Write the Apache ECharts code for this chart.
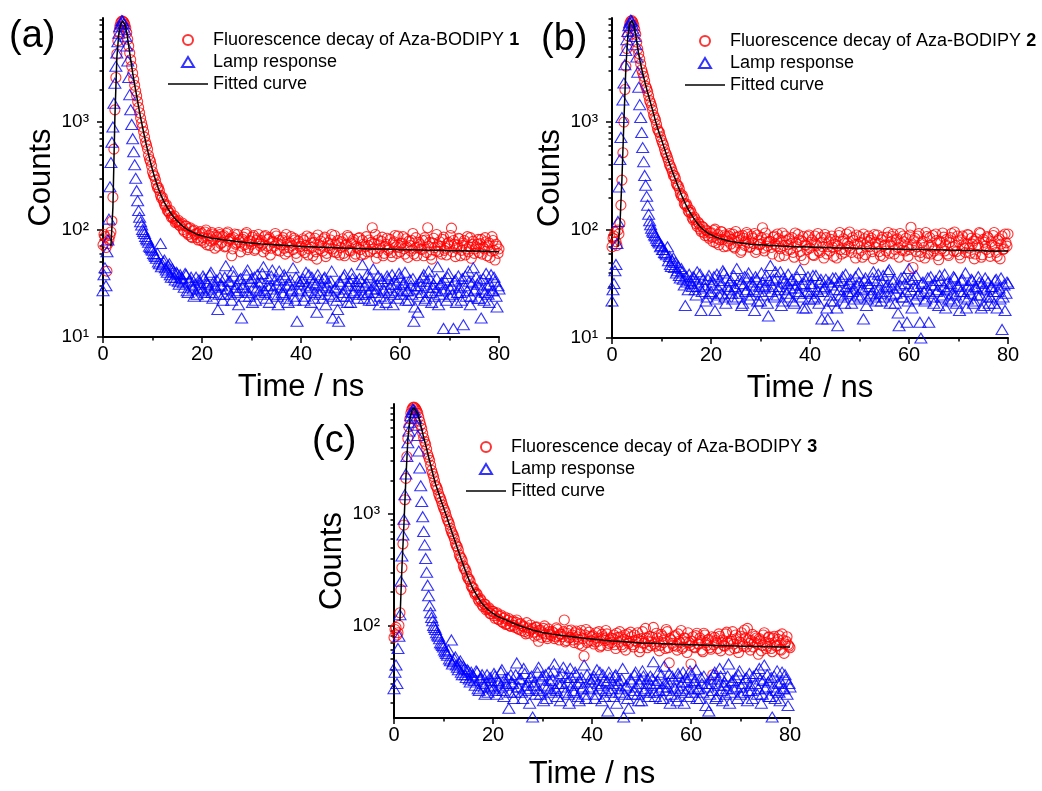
<!DOCTYPE html>
<html><head><meta charset="utf-8">
<script src="https://cdn.jsdelivr.net/npm/echarts@6/dist/echarts.min.js"></script>
<style>html,body{margin:0;padding:0;background:#fff}#c{width:1042px;height:791px}</style>
</head><body><div id="c"></div>
<script>
// TCSPC channel width (ns). "EVEN" arrays hold channels 0,2,4,... (t = 0, 0.4, ...),
// "ODD" arrays hold channels 1,3,5,... (t = 0.2, 0.6, ...).
const CHANNEL_NS = 0.2;

// Lamp response (panels a and c share the same lamp record)
const LAMP_AC_EVEN = [
 27, 44, 62, 125, 420, 900, 2300, 4400, 6700, 8300,
 8700, 7300, 5100, 2600, 1300, 700, 400, 230, 150, 118,
 100, 92, 82, 76, 68, 64, 58, 54, 50, 74,
 47, 52, 42, 46, 38, 43, 36, 40, 33, 38,
 35, 29, 38, 26, 34, 30, 24, 36, 28, 32,
 27, 35, 24, 31, 38, 26, 33, 29, 18, 36,
 30, 25, 46, 28, 33, 22, 37, 29, 26, 34,
 15, 31, 27, 42, 24, 35, 29, 22, 38, 27,
 33, 45, 26, 30, 21, 37, 28, 34, 24, 41,
 29, 25, 36, 23, 31, 27, 44, 22, 14, 33,
 28, 35, 24, 30, 38, 21, 32, 26, 17, 34,
 27, 23, 36, 29, 25, 33, 15, 28, 22, 14,
 31, 26, 38, 24, 30, 21, 35, 27, 33, 25,
 29, 47, 23, 32, 26, 36, 22, 30, 28, 37,
 24, 33, 27, 21, 35, 29, 38, 25, 31, 23,
 36, 28, 32, 22, 27, 34, 25, 14, 30, 17,
 33, 26, 38, 23, 29, 35, 21, 31, 27, 45,
 25, 32, 12, 28, 36, 24, 30, 12, 34, 26,
 29, 22, 13, 37, 27, 33, 24, 44, 28, 31,
 23, 15, 35, 26, 30, 21, 38, 27, 33, 19,
 28
];
const LAMP_AC_ODD = [
 38, 30, 80, 250, 650, 1500, 3300, 5600, 7700, 8800,
 8200, 6300, 3700, 1800, 950, 530, 300, 185, 130, 110,
 96, 86, 80, 70, 66, 60, 56, 60, 48, 45,
 50, 44, 40, 48, 36, 41, 34, 39, 31, 36,
 32, 39, 27, 33, 36, 28, 31, 25, 34, 29,
 37, 26, 32, 28, 40, 23, 30, 34, 25, 31,
 22, 36, 28, 33, 25, 41, 27, 31, 20, 35,
 29, 24, 38, 26, 33, 21, 36, 28, 32, 25,
 39, 27, 23, 35, 30, 42, 25, 31, 20, 34,
 26, 38, 30, 21, 34, 28, 24, 36, 27, 31,
 33, 22, 40, 27, 29, 36, 23, 31, 38, 25,
 30, 35, 20, 32, 27, 41, 24, 29, 18, 33,
 24, 36, 28, 21, 33, 39, 26, 30, 23, 35,
 33, 25, 30, 38, 22, 28, 43, 26, 31, 20,
 35, 28, 23, 37, 26, 31, 20, 34, 27, 39,
 25, 31, 40, 27, 22, 30, 35, 19, 28, 24,
 30, 36, 22, 33, 41, 26, 29, 24, 35, 20,
 31, 27, 34, 22, 39, 28, 25, 33, 21, 37,
 26, 35, 30, 24, 41, 20, 32, 27, 36, 23,
 34, 28, 22, 39, 25, 31, 27, 36, 24, 30
];

const FL_A_EVEN = [
 72, 86, 41, 80, 95, 200, 1300, 4300, 6900, 8400,
 8700, 8100, 6800, 5100, 3800, 2850, 2200, 1750, 1370, 1090,
 900, 725, 610, 490, 430, 345, 312, 262, 245, 208,
 200, 172, 170, 148, 150, 132, 134, 118, 122, 108,
 115, 96, 108, 90, 104, 84, 99, 92, 80, 96,
 92, 76, 99, 83, 71, 94, 80, 88, 70, 90,
 76, 88, 70, 95, 81, 57, 84, 73, 90, 77,
 70, 85, 91, 65, 79, 73, 88, 66, 82, 75,
 79, 62, 88, 70, 84, 67, 76, 92, 64, 80,
 72, 84, 59, 77, 68, 86, 65, 80, 55, 74,
 70, 82, 61, 87, 66, 75, 57, 83, 53, 72,
 78, 63, 85, 60, 71, 80, 66, 88, 61, 74,
 68, 82, 57, 73, 85, 63, 77, 56, 70, 83,
 65, 79, 59, 86, 71, 62, 104, 74, 54, 80,
 67, 85, 60, 73, 64, 81, 56, 77, 69, 87,
 62, 75, 66, 82, 55, 71, 79, 59, 84, 68,
 73, 65, 57, 80, 104, 76, 53, 83, 63, 71,
 77, 59, 85, 67, 74, 70, 103, 79, 56, 72,
 82, 64, 75, 58, 86, 69, 54, 78, 66, 73,
 61, 81, 68, 84, 57, 75, 63, 79, 52, 70,
 66
];
const FL_A_ODD = [
 90, 68, 74, 88, 120, 560, 2600, 5700, 7800, 8700,
 8500, 7500, 5900, 4400, 3300, 2500, 1950, 1550, 1220, 980,
 815, 650, 560, 450, 392, 322, 290, 244, 230, 196,
 185, 165, 150, 142, 130, 127, 116, 119, 110, 112,
 100, 108, 93, 102, 86, 97, 90, 84, 93, 79,
 84, 95, 72, 88, 78, 91, 67, 85, 94, 74,
 86, 69, 92, 78, 83, 66, 91, 75, 80, 62,
 81, 72, 94, 68, 77, 85, 64, 79, 90, 70,
 73, 86, 66, 81, 58, 78, 70, 87, 74, 63,
 80, 67, 90, 62, 75, 71, 83, 60, 78, 69,
 64, 79, 71, 58, 84, 68, 76, 62, 89, 66,
 70, 82, 56, 75, 67, 90, 62, 73, 79, 58,
 77, 60, 71, 88, 64, 74, 81, 59, 67, 84,
 58, 73, 69, 62, 80, 76, 66, 90, 61, 72,
 78, 57, 70, 83, 66, 61, 75, 88, 60, 68,
 74, 86, 59, 69, 78, 63, 92, 67, 57, 76,
 66, 79, 84, 61, 70, 58, 75, 68, 90, 62,
 70, 81, 64, 58, 76, 88, 62, 73, 67, 83,
 57, 71, 79, 66, 62, 84, 73, 60, 69, 81,
 74, 59, 66, 77, 71, 55, 86, 64, 73, 60
];

const FL_B_EVEN = [
 70, 88, 78, 100, 115, 290, 1000, 3300, 6300, 8200,
 8700, 7900, 6500, 4750, 3850, 3050, 2650, 2150, 1920, 1580,
 1410, 1160, 1045, 860, 800, 680, 610, 520, 470, 405,
 370, 320, 300, 258, 240, 205, 198, 170, 166, 146,
 145, 124, 126, 108, 114, 97, 106, 89, 98, 84,
 95, 78, 102, 84, 73, 97, 82, 90, 71, 88,
 74, 92, 68, 86, 80, 62, 89, 72, 95, 76,
 70, 84, 93, 66, 80, 74, 105, 64, 83, 77,
 78, 60, 88, 71, 83, 67, 94, 58, 80, 73,
 66, 85, 56, 76, 91, 63, 79, 53, 72, 87,
 68, 81, 58, 74, 93, 62, 77, 55, 85, 70,
 64, 88, 57, 79, 71, 95, 60, 83, 66, 76,
 96, 62, 80, 55, 74, 87, 65, 92, 59, 78,
 70, 84, 54, 77, 90, 63, 81, 57, 73, 86,
 61, 78, 92, 66, 83, 56, 75, 88, 64, 71,
 66, 106, 45, 84, 70, 93, 62, 79, 55, 87,
 72, 60, 89, 67, 80, 53, 76, 94, 64, 82,
 58, 85, 70, 96, 63, 78, 55, 88, 68, 75,
 90, 61, 74, 54, 83, 69, 93, 59, 77, 66,
 85, 57, 72, 95, 62, 80, 54, 88, 67, 76,
 92
];
const FL_B_ODD = [
 84, 95, 72, 92, 170, 520, 2000, 4800, 7400, 8600,
 8400, 7200, 5500, 4300, 3450, 2850, 2400, 2050, 1750, 1500,
 1290, 1100, 950, 820, 730, 640, 560, 500, 440, 388,
 345, 318, 270, 256, 218, 210, 176, 175, 150, 153,
 130, 132, 114, 118, 102, 108, 94, 100, 88, 94,
 86, 99, 76, 91, 81, 96, 70, 87, 79, 93,
 82, 70, 97, 77, 88, 65, 84, 78, 91, 69,
 88, 75, 62, 90, 73, 85, 68, 94, 71, 79,
 69, 86, 74, 92, 57, 80, 72, 88, 65, 83,
 75, 62, 94, 70, 81, 58, 87, 73, 66, 90,
 77, 59, 88, 72, 64, 85, 70, 91, 60, 78,
 82, 69, 74, 55, 89, 66, 79, 62, 92, 71,
 68, 85, 73, 90, 61, 77, 56, 83, 70, 88,
 80, 63, 91, 69, 75, 58, 86, 72, 64, 95,
 73, 87, 60, 81, 69, 93, 65, 78, 84, 57,
 90, 72, 80, 63, 88, 57, 76, 69, 95, 61,
 85, 70, 64, 92, 58, 79, 67, 86, 73, 60,
 77, 93, 64, 72, 88, 59, 81, 70, 62, 91,
 68, 84, 79, 60, 73, 95, 56, 82, 71, 87,
 62, 78, 89, 70, 57, 83, 74, 66, 92, 71
];

const LAMP_B_EVEN = [
 22, 32, 48, 120, 450, 1100, 2300, 4600, 6900, 8300,
 8600, 7000, 5200, 2900, 1450, 800, 430, 260, 170, 122,
 104, 95, 88, 80, 76, 72, 66, 61, 70, 57,
 46, 55, 50, 42, 38, 44, 35, 20, 33, 39,
 32, 37, 28, 41, 30, 18, 35, 29, 24, 38,
 27, 33, 18, 39, 25, 31, 42, 24, 36, 28,
 34, 23, 30, 44, 26, 32, 21, 37, 28, 40,
 25, 31, 18, 35, 27, 22, 33, 29, 38, 16,
 47, 30, 24, 36, 28, 41, 22, 33, 26, 39,
 29, 35, 21, 31, 27, 43, 24, 32, 19, 37,
 26, 30, 23, 38, 27, 33, 15, 29, 35, 15,
 25, 31, 22, 36, 13, 28, 34, 24, 39, 27,
 32, 21, 29, 37, 25, 33, 28, 15, 36, 23,
 30, 26, 41, 24, 34, 29, 22, 38, 27, 31,
 43, 25, 33, 21, 29, 13, 36, 24, 32, 14,
 44, 28, 35, 23, 30, 26, 10, 33, 22, 29,
 14, 37, 24, 31, 27, 20, 34, 25, 39, 28,
 23, 32, 26, 36, 21, 30, 27, 35, 24, 19,
 31, 26, 34, 22, 29, 37, 25, 32, 20, 28,
 33, 24, 30, 21, 35, 27, 23, 12, 31, 26,
 32
];
const LAMP_B_ODD = [
 28, 42, 75, 250, 720, 1600, 3400, 5800, 7800, 8800,
 7900, 6200, 4000, 2100, 1100, 580, 320, 205, 140, 112,
 98, 90, 84, 78, 70, 66, 62, 59, 52, 48,
 52, 45, 40, 46, 36, 41, 31, 37, 28, 34,
 30, 36, 25, 33, 39, 27, 31, 22, 35, 26,
 31, 37, 23, 29, 34, 26, 40, 21, 30, 33,
 26, 38, 29, 24, 35, 20, 31, 27, 36, 23,
 33, 28, 37, 22, 30, 40, 25, 31, 21, 34,
 27, 35, 41, 25, 30, 20, 36, 28, 32, 24,
 34, 22, 29, 37, 26, 31, 19, 35, 27, 23,
 32, 38, 24, 28, 21, 35, 27, 30, 19, 33,
 22, 36, 28, 19, 33, 25, 37, 21, 30, 26,
 35, 27, 23, 31, 40, 24, 29, 34, 20, 32,
 25, 36, 28, 22, 39, 26, 33, 24, 30, 41,
 21, 29, 35, 26, 17, 31, 24, 37, 27, 22,
 35, 19, 30, 38, 25, 14, 32, 27, 23, 36,
 26, 31, 21, 34, 28, 38, 24, 30, 19, 33,
 29, 22, 37, 25, 31, 18, 34, 27, 40, 23,
 28, 35, 21, 30, 25, 33, 19, 29, 36, 24,
 21, 30, 27, 34, 19, 29, 36, 24, 18, 33
];

const FL_C_EVEN = [
 78, 96, 86, 130, 330, 800, 2100, 4800, 7200, 8700,
 9200, 8850, 8100, 6850, 5900, 4850, 4250, 3450, 3050, 2480,
 2180, 1820, 1670, 1440, 1300, 1140, 1035, 890, 812, 698,
 640, 548, 508, 430, 400, 342, 320, 276, 260, 226,
 218, 190, 190, 165, 168, 148, 155, 140, 144, 127,
 134, 116, 130, 112, 124, 106, 119, 103, 115, 98,
 110, 96, 112, 92, 104, 99, 88, 106, 85, 101,
 94, 80, 97, 72, 91, 86, 99, 79, 93, 83,
 88, 76, 95, 81, 84, 79, 112, 73, 90, 78,
 82, 70, 89, 75, 84, 66, 53, 92, 72, 80,
 79, 68, 86, 72, 64, 83, 76, 90, 66, 74,
 70, 82, 62, 78, 88, 67, 75, 60, 84, 72,
 79, 64, 73, 86, 58, 76, 69, 94, 63, 80,
 71, 96, 65, 77, 59, 83, 70, 62, 88, 46,
 74, 66, 81, 60, 72, 90, 64, 77, 57, 70,
 45, 79, 63, 85, 68, 73, 58, 82, 66, 75,
 61, 36, 78, 70, 84, 59, 74, 65, 87, 69,
 72, 88, 62, 76, 57, 80, 68, 91, 64, 74,
 60, 83, 70, 77, 55, 73, 66, 86, 62, 78,
 69, 58, 80, 65, 75, 61, 84, 56, 72, 67,
 63
];
const FL_C_ODD = [
 92, 82, 100, 210, 540, 1350, 3300, 6100, 8100, 9100,
 9100, 8500, 7450, 6350, 5350, 4500, 3850, 3250, 2750, 2320,
 1990, 1760, 1530, 1385, 1210, 1090, 950, 860, 745, 668,
 600, 520, 475, 410, 380, 325, 302, 262, 248, 218,
 200, 196, 172, 174, 153, 156, 138, 142, 128, 134,
 122, 128, 114, 121, 108, 116, 102, 111, 99, 108,
 100, 107, 94, 103, 90, 97, 84, 95, 89, 92,
 87, 96, 82, 90, 78, 94, 84, 76, 88, 81,
 86, 79, 92, 74, 83, 88, 71, 85, 77, 91,
 74, 86, 79, 68, 90, 76, 82, 70, 87, 73,
 81, 71, 77, 88, 66, 79, 73, 84, 69, 77,
 76, 67, 85, 71, 79, 64, 82, 73, 69, 87,
 67, 82, 71, 75, 63, 88, 70, 77, 72, 66,
 78, 68, 85, 72, 66, 80, 74, 92, 63, 76,
 69, 79, 65, 84, 70, 62, 77, 71, 86, 66,
 72, 64, 81, 68, 77, 60, 85, 70, 74, 63,
 79, 67, 73, 62, 80, 70, 66, 84, 71, 60,
 75, 68, 82, 63, 71, 86, 65, 77, 94, 69,
 73, 64, 80, 68, 76, 59, 82, 70, 65, 79,
 62, 77, 71, 66, 81, 60, 74, 68, 79, 65
];

// Fitted curves, sampled at FIT_T (ns)
const FIT_T = [
 1.2, 1.6, 2.0, 2.4, 2.8, 3.2, 3.6, 4.0, 4.4, 4.8,
 5.2, 5.6, 6.0, 6.4, 6.8, 7.2, 7.6, 8.0, 8.4, 8.8,
 9.2, 9.6, 10.0, 10.4, 10.8, 11.2, 11.6, 12.0, 12.4, 12.8,
 13.2, 13.6, 14.0, 14.4, 14.8, 15.2, 15.6, 16.0, 16.4, 16.8,
 17.2, 17.6, 18.0, 18.4, 18.8, 19.2, 19.6, 20.0, 21, 22,
 23, 24, 25, 26, 27, 28, 29, 30, 32, 34,
 36, 38, 40, 42, 44, 46, 48, 50, 52, 54,
 56, 58, 60, 62, 64, 66, 68, 70, 72, 74,
 76, 78, 80
];
const FIT_A = [
 null, 70, 160, 1100, 4000, 6700, 8200, 8700, 8200, 6800,
 5100, 3800, 2850, 2220, 1750, 1380, 1100, 890, 730, 600,
 500, 420, 358, 310, 272, 240, 215, 195, 179, 165,
 154, 144, 136, 129, 123, 118, 113, 109, 105, 102,
 99, 97, 95, 93, 91, 90, 88.5, 87, 85, 83,
 82, 80.5, 79.5, 78.5, 77.5, 76.5, 75.5, 75, 73.5, 72.5,
 71.5, 70.5, 69.5, 69, 68.5, 68, 67.5, 67, 66.5, 66,
 66, 65.5, 65, 65, 64.5, 64, 64, 63.5, 63.5, 63,
 63, 62.5, 62
];
const FIT_B = [
 70, 110, 290, 1000, 3200, 6300, 8200, 8700, 8000, 6400,
 4800, 3800, 3100, 2600, 2200, 1880, 1620, 1390, 1190, 1020,
 880, 775, 690, 605, 530, 468, 415, 370, 330, 295,
 264, 237, 213, 193, 176, 162, 150, 140, 131, 123,
 116, 110, 105, 101, 98, 95, 92, 90, 86, 83,
 80.5, 78.5, 77, 76, 75, 74, 73.5, 73, 72, 71,
 70.5, 70, 69.5, 69, 68.5, 68, 68, 67.5, 67.5, 67,
 67, 66.5, 66, 66, 65.5, 65.5, 65, 65, 64.5, 64.5,
 64, 64, 64
];
const FIT_C = [
 110, 330, 800, 2100, 4700, 7100, 8600, 9100, 8800, 8000,
 6900, 5800, 4900, 4200, 3550, 3000, 2550, 2170, 1860, 1650,
 1460, 1290, 1150, 1020, 905, 800, 710, 630, 560, 497,
 440, 392, 350, 313, 281, 254, 231, 212, 197, 184,
 172, 162, 154, 147, 141, 136, 132, 128, 120, 115,
 110, 105, 101, 97, 94, 91, 88.5, 86.5, 83.5, 81,
 79, 77, 75.5, 74, 72.5, 71.5, 70.5, 69.5, 69, 68.5,
 68, 67.5, 67, 66.5, 66, 65.5, 65.5, 65, 65, 64.5,
 64.5, 64, 64
];

const NAMES_FL = ['Fluorescence decay of Aza-BODIPY 1', 'Fluorescence decay of Aza-BODIPY 2', 'Fluorescence decay of Aza-BODIPY 3'];
const NAME_LAMP = 'Lamp response';
const NAME_FIT = 'Fitted curve';
const PANEL_LABELS = ['(a)', '(b)', '(c)'];
const X_TICKS = [0, 20, 40, 60, 80];

const FONT = '"Liberation Sans", Arial, Helvetica, sans-serif';
const SUP = {1: '\u00b9', 2: '\u00b2', 3: '\u00b3', 4: '\u2074'};

const panels = [
  {fl: [FL_A_EVEN, FL_A_ODD], lamp: [LAMP_AC_EVEN, LAMP_AC_ODD], fit: FIT_A,
   grid: {left: 103, top: 18, width: 396, height: 319}, ymin: 10, ymax: 9300,
   legend: {left: 168, top: 31}, label: {left: 9, top: 18}, xGap: 35},
  {fl: [FL_B_EVEN, FL_B_ODD], lamp: [LAMP_B_EVEN, LAMP_B_ODD], fit: FIT_B,
   grid: {left: 612, top: 18, width: 396, height: 320}, ymin: 10, ymax: 9200,
   legend: {left: 685, top: 32}, label: {left: 541, top: 21}, xGap: 35},
  {fl: [FL_C_EVEN, FL_C_ODD], lamp: [LAMP_AC_EVEN, LAMP_AC_ODD], fit: FIT_C,
   grid: {left: 394, top: 404, width: 396, height: 319}, ymin: 14.7, ymax: 9800,
   legend: {left: 466, top: 438}, label: {left: 312, top: 423}, xGap: 41}
];

function minorTicks(min, max) {
  const out = [];
  for (let d = 1; d <= 1000; d *= 10) for (let k = 2; k <= 9; k++) { const v = k * d; if (v >= min && v <= max) out.push(v); }
  return out;
}
function majorTicks(min, max) { return [10, 100, 1000, 10000].filter(v => v >= min && v <= max); }
function channels(pair) {
  const [even, odd] = pair;
  const pts = [];
  even.forEach((v, k) => pts.push([(2 * k) * CHANNEL_NS, v]));
  odd.forEach((v, k) => pts.push([(2 * k + 1) * CHANNEL_NS, v]));
  return pts.sort((a, b) => a[0] - b[0]);
}

const option = {animation: false, backgroundColor: '#fff', grid: [], xAxis: [], yAxis: [], series: [], legend: [], title: []};

panels.forEach((p, i) => {
  option.grid.push(Object.assign({containLabel: false}, p.grid));
  option.title.push({text: PANEL_LABELS[i], left: p.label.left, top: p.label.top, padding: 0,
    textStyle: {fontSize: 38, fontWeight: 'normal', color: '#000', fontFamily: FONT}});
  option.xAxis.push({
    type: 'value', gridIndex: i, min: 0, max: 80, interval: 20,
    name: 'Time / ns', nameLocation: 'middle', nameGap: p.xGap,
    nameTextStyle: {fontSize: 31, color: '#000', fontFamily: FONT},
    axisLine: {show: true, onZero: false, lineStyle: {color: '#000', width: 2}},
    axisTick: {show: true, inside: false, length: 6, lineStyle: {color: '#000', width: 1.5}},
    minorTick: {show: true, splitNumber: 2, length: 3.5, lineStyle: {color: '#000', width: 1.5}},
    axisLabel: {fontSize: 20, color: '#000', fontFamily: FONT, margin: 7, customValues: X_TICKS},
    splitLine: {show: false}, minorSplitLine: {show: false}
  });
  option.yAxis.push({
    type: 'log', logBase: 10, gridIndex: i, min: p.ymin, max: p.ymax, position: 'left',
    name: 'Counts', nameLocation: 'middle', nameGap: 46,
    nameTextStyle: {fontSize: 31, color: '#000', fontFamily: FONT},
    axisLine: {show: true, onZero: false, lineStyle: {color: '#000', width: 2}},
    axisTick: {show: true, inside: false, length: 3.5, lineStyle: {color: '#000', width: 1.5}, customValues: minorTicks(p.ymin, p.ymax)},
    axisLabel: {show: false},
    splitLine: {show: false}
  });
  const maj = majorTicks(p.ymin, p.ymax);
  option.yAxis.push({
    type: 'log', logBase: 10, gridIndex: i, min: p.ymin, max: p.ymax, position: 'left', offset: 0,
    axisLine: {show: false},
    axisTick: {show: true, inside: false, length: 6, lineStyle: {color: '#000', width: 1.5}, customValues: maj},
    axisLabel: {show: true, fontSize: 19, color: '#000', fontFamily: FONT, margin: 14, customValues: maj,
      formatter: v => { const e = Math.round(Math.log10(v)); return Math.abs(Math.log10(v) - e) < 1e-6 ? '10' + SUP[e] : ''; }},
    splitLine: {show: false}
  });
  const yIdx = 2 * i;
  option.series.push({
    type: 'scatter', name: NAMES_FL[i], xAxisIndex: i, yAxisIndex: yIdx, clip: true, z: 2,
    symbol: 'circle', symbolSize: 10,
    itemStyle: {color: 'rgba(255,0,0,0)', borderColor: '#ff0000', borderWidth: 1.1},
    data: channels(p.fl)
  });
  option.series.push({
    type: 'scatter', name: NAME_LAMP, xAxisIndex: i, yAxisIndex: yIdx, clip: true, z: 3,
    symbol: 'triangle', symbolSize: [12, 10],
    itemStyle: {color: 'rgba(0,0,255,0)', borderColor: '#0000ff', borderWidth: 1.1},
    data: channels(p.lamp)
  });
  option.series.push({
    type: 'line', name: NAME_FIT, xAxisIndex: i, yAxisIndex: yIdx, clip: true, z: 4,
    symbol: 'none', showSymbol: false, smooth: false,
    lineStyle: {color: '#000', width: 1.5}, itemStyle: {color: '#000'},
    data: FIT_T.map((t, k) => [t, p.fit[k]]).filter(d => d[1] != null)
  });
  option.legend.push({
    orient: 'vertical', left: p.legend.left, top: p.legend.top, padding: 0,
    itemWidth: 40, itemHeight: 10, itemGap: 4, selectedMode: false, symbolKeepAspect: true,
    data: [
      {name: NAMES_FL[i], icon: 'circle'},
      {name: NAME_LAMP, icon: 'path://M6,0 L12,10 L0,10 Z'},
      {name: NAME_FIT, icon: 'path://M0,0 H40 V1.5 H0 Z', itemStyle: {color: '#000', borderWidth: 0}}
    ],
    formatter: n => /\d$/.test(n) ? n.slice(0, -1) + '{b|' + n.slice(-1) + '}' : n,
    textStyle: {fontSize: 18, color: '#000', fontFamily: FONT, lineHeight: 18,
      rich: {b: {fontSize: 18, fontWeight: 'bold', color: '#000', fontFamily: FONT, lineHeight: 18}}}
  });
});

const chart = echarts.init(document.getElementById('c'), null, {renderer: 'canvas'});
chart.setOption(option);
</script>
</body></html>
